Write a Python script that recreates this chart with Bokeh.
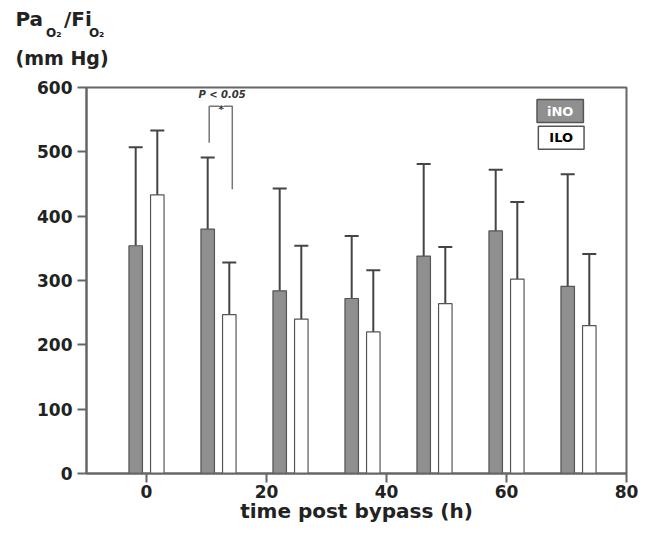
from bokeh.plotting import figure
from bokeh.models import ColumnDataSource, Whisker, TeeHead, Label, FixedTicker, Title
from bokeh.embed import file_html
from bokeh.resources import INLINE

time_h = [0, 12, 24, 36, 48, 60, 72]
ino_mean = [354, 380, 284, 272, 338, 377, 291]
ino_sd = [153, 111, 159, 97, 143, 95, 174]
ilo_mean = [433, 247, 240, 220, 264, 302, 230]
ilo_sd = [100, 81, 114, 96, 88, 120, 111]
x_ticks = [0, 20, 40, 60, 80]
y_ticks = [0, 100, 200, 300, 400, 500, 600]

FONT = "DejaVu Sans"
GRAY = "#8f8f8f"
EDGE = "#555555"
AX = "#666666"
TXT = "#222222"
NB = "\u00a0"
THIN = "\u2009"

src = ColumnDataSource(dict(
    t=time_h,
    ino=ino_mean,
    ino_up=[m + s for m, s in zip(ino_mean, ino_sd)],
    ilo=ilo_mean,
    ilo_up=[m + s for m, s in zip(ilo_mean, ilo_sd)],
    xg=[t - 1.8 for t in time_h],
    xw=[t + 1.8 for t in time_h],
))

p = figure(width=640, height=532, x_range=(-10, 80), y_range=(0, 600),
           output_backend="svg", toolbar_location=None,
           min_border_left=86, min_border_right=14,
           min_border_top=87, min_border_bottom=59)

bw = 2.25
p.vbar(x="xg", top="ino", bottom=0, width=bw, source=src,
       fill_color=GRAY, line_color=EDGE, line_width=1.2)
p.vbar(x="xw", top="ilo", bottom=0, width=bw, source=src,
       fill_color="white", line_color=EDGE, line_width=1.2)

for base, lo, hi in (("xg", "ino", "ino_up"), ("xw", "ilo", "ilo_up")):
    w = Whisker(source=src, base=base, lower=lo, upper=hi, dimension="height",
                line_color="#444444", line_width=2,
                upper_head=TeeHead(size=14, line_color="#444444", line_width=2),
                lower_head=None)
    p.add_layout(w)

# significance bracket between iNO and ILO at 12 h
bx_l, bx_r = 10.45, 14.3
p.line([bx_l, bx_l, 12.05], [514, 571, 571], line_color="#777777", line_width=1.5)
p.line([12.9, bx_r, bx_r], [571, 571, 442], line_color="#777777", line_width=1.5)
p.add_layout(Label(x=12.45, y=566, text="*", text_font=FONT, text_font_size="11px",
                   text_font_style="bold", text_align="center", text_baseline="middle",
                   text_color="#333333"))
p.add_layout(Label(x=12.6, y=589, text="P < 0.05", text_font=FONT, text_font_size="10px",
                   text_font_style="bold italic", text_align="center", text_baseline="middle",
                   text_color="#333333"))

# legend boxes
p.add_layout(Label(x=473.7, y=362.5, x_units="screen", y_units="screen", text="iNO",
                   text_font=FONT, text_font_size="13px", text_font_style="bold",
                   text_color="white", text_align="center", text_baseline="middle",
                   background_fill_color=GRAY, border_line_color=EDGE, border_line_width=1.5,
                   padding=dict(top=4, right=10, bottom=4, left=10)))
p.add_layout(Label(x=474.7, y=335.7, x_units="screen", y_units="screen", text="ILO",
                   text_font=FONT, text_font_size="13px", text_font_style="bold",
                   text_color="black", text_align="center", text_baseline="middle",
                   background_fill_color="white", border_line_color=EDGE, border_line_width=1.5,
                   padding=dict(top=4, right=11, bottom=4, left=11)))

# y-axis title (PaO2/FiO2 over mm Hg), stacked upward from the frame
def head(txt, size, offset, standoff):
    p.add_layout(Title(text=txt, align="left", vertical_align="bottom", offset=offset,
                       standoff=standoff, text_font=FONT, text_font_size=size,
                       text_font_style="bold", text_color=TXT), "above")

head(NB, "1px", 0, 16)                      # spacing row
head("(mm Hg)", "19px", -71, 0)
head("O\u2082" + NB * 6 + THIN + "O\u2082", "12px", -40.5, 9)
head("Pa" + NB * 3 + "/Fi", "20px", -71, -22)

p.xaxis.ticker = FixedTicker(ticks=x_ticks)
p.yaxis.ticker = FixedTicker(ticks=y_ticks)
p.xaxis.axis_label = "time post bypass (h)"
for ax in (p.xaxis, p.yaxis):
    ax.axis_line_color = AX
    ax.axis_line_width = 2
    ax.major_tick_line_color = AX
    ax.major_tick_line_width = 2
    ax.major_tick_out = 9
    ax.major_tick_in = 0
    ax.minor_tick_line_color = None
    ax.major_label_text_font = FONT
    ax.major_label_text_font_size = "17px"
    ax.major_label_text_font_style = "bold"
    ax.major_label_text_color = TXT
    ax.major_label_standoff = 5
p.xaxis.major_label_standoff = 2
p.xaxis.axis_label_text_font = FONT
p.xaxis.axis_label_text_font_size = "20px"
p.xaxis.axis_label_text_font_style = "bold"
p.xaxis.axis_label_text_color = TXT
p.xaxis.axis_label_standoff = -2

p.xgrid.grid_line_color = None
p.ygrid.grid_line_color = None
p.outline_line_color = AX
p.outline_line_width = 2
p.background_fill_color = "white"
p.border_fill_color = "white"

open("out.html", "w").write(file_html(p, INLINE))
